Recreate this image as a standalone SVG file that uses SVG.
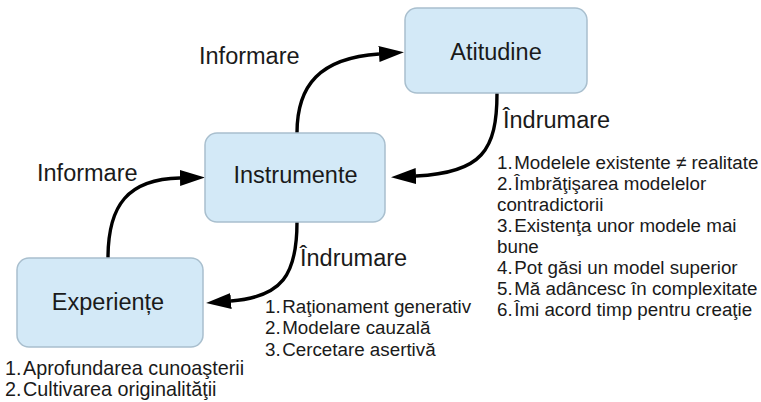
<svg xmlns="http://www.w3.org/2000/svg" width="761" height="402" viewBox="0 0 761 402">
<defs>
<style>
.box{fill:#d3e9f7;stroke:#a9bfce;stroke-width:1.5}
.lbl{font-family:"Liberation Sans",Arial,sans-serif;font-size:23.5px;fill:#1a1a1a}
.nlbl{font-family:"Liberation Sans",Arial,sans-serif;font-size:23.5px;fill:#1a1a1a;text-anchor:middle}
.lst{font-family:"Liberation Sans",Arial,sans-serif;font-size:18.8px;fill:#1a1a1a}
.lstb{font-family:"Liberation Sans",Arial,sans-serif;font-size:19.8px;fill:#1a1a1a}
.edge{fill:none;stroke:#000;stroke-width:3.4}
</style>
<marker id="ah" markerUnits="userSpaceOnUse" markerWidth="28" markerHeight="20" refX="0" refY="8" orient="auto">
<path d="M0,0 L25,8 L0,16 Z" fill="#000"/>
</marker>
</defs>
<rect width="761" height="402" fill="#fff"/>
<g id="connectors">
<path class="edge" d="M108,258 C108,205 128,179 180,178" marker-end="url(#ah)"/>
<path class="edge" d="M297,133 C297,85 320,58 379,54" marker-end="url(#ah)"/>
<path class="edge" d="M497,93 C497,150 482,173 416,176" marker-end="url(#ah)"/>
<path class="edge" d="M297,222 C297,275 282,297 231,301" marker-end="url(#ah)"/>
</g>
<g id="atitudine">
<rect class="box" x="405" y="8" width="182" height="85" rx="12"/>
<text class="nlbl" x="496" y="60">Atitudine</text>
</g>
<g id="instrumente">
<rect class="box" x="205" y="133" width="180" height="89" rx="12"/>
<text class="nlbl" x="295.5" y="183">Instrumente</text>
</g>
<g id="experiente">
<rect class="box" x="17" y="258" width="186" height="89" rx="12"/>
<text class="nlbl" x="108" y="310">Experiențe</text>
</g>
<g id="labels">
<text class="lbl" x="199" y="64">Informare</text>
<text class="lbl" x="37" y="181">Informare</text>
<text class="lbl" x="503" y="128">Îndrumare</text>
<text class="lbl" x="300" y="266">Îndrumare</text>
</g>
<g id="list-atitudine">
<text class="lst" x="497" y="169"><tspan>1.</tspan><tspan dx="1.5">Modelele existente ≠ realitate</tspan></text>
<text class="lst" x="497" y="190"><tspan>2.</tspan><tspan dx="1.5">Îmbrăţişarea modelelor</tspan></text>
<text class="lst" x="497" y="211">contradictorii</text>
<text class="lst" x="497" y="232"><tspan>3.</tspan><tspan dx="1.5">Existenţa unor modele mai</tspan></text>
<text class="lst" x="497" y="253">bune</text>
<text class="lst" x="497" y="274"><tspan>4.</tspan><tspan dx="1.5">Pot găsi un model superior</tspan></text>
<text class="lst" x="497" y="295"><tspan>5.</tspan><tspan dx="1.5">Mă adâncesc în complexitate</tspan></text>
<text class="lst" x="497" y="316"><tspan>6.</tspan><tspan dx="1.5">Îmi acord timp pentru creaţie</tspan></text>
</g>
<g id="list-instrumente">
<text class="lst" x="265" y="313"><tspan>1.</tspan><tspan dx="1.5">Raţionament generativ</tspan></text>
<text class="lst" x="265" y="334"><tspan>2.</tspan><tspan dx="1.5">Modelare cauzală</tspan></text>
<text class="lst" x="265" y="356"><tspan>3.</tspan><tspan dx="1.5">Cercetare asertivă</tspan></text>
</g>
<g id="list-experiente">
<text class="lstb" x="5" y="375"><tspan>1.</tspan><tspan dx="1.5">Aprofundarea cunoaşterii</tspan></text>
<text class="lstb" x="5" y="396"><tspan>2.</tspan><tspan dx="1.5">Cultivarea originalităţii</tspan></text>
</g>
</svg>
